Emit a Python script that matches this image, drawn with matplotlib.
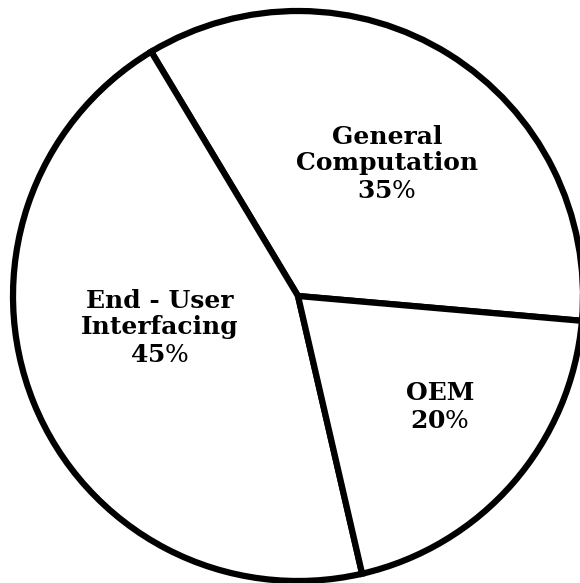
import matplotlib
matplotlib.use("Agg")
import matplotlib.pyplot as plt

plt.rcParams["mathtext.fontset"] = "dejavuserif"

labels = ["General\nComputation", "End - User\nInterfacing", "OEM"]
shares = [35, 45, 20]

R = 285.0  # pixels per data unit
CX, CY = 298, 296  # circle centre in pixels (from top-left)

# baseline of the percentage line for each label, in pixels
label_px = [(387, 198), (160, 362), (440, 428)]

fig = plt.figure(figsize=(5.8, 5.83), dpi=100)
ax = fig.add_axes([0, 0, 1, 1])

ax.pie(shares, startangle=-5, counterclock=True, colors=["white"] * 3,
       wedgeprops=dict(edgecolor="black", linewidth=4.5, joinstyle="miter"))

for lab, val, (px, py) in zip(labels, shares, label_px):
    x, y = (px - CX) / R, (CY - py) / R
    # bold number, lighter percent sign
    ax.text(x, y, rf"$\mathbf{{{val}}}$%", ha="center", va="baseline",
            family="DejaVu Serif", fontsize=18)
    ax.annotate(lab, (x, y), xytext=(0, 28), textcoords="offset pixels",
                ha="center", va="baseline", family="DejaVu Serif",
                fontweight="bold", fontsize=18, linespacing=1.1)

ax.set_xlim(-CX / R, (580 - CX) / R)
ax.set_ylim(-(583 - CY) / R, CY / R)
ax.set_aspect("auto")
ax.axis("off")

fig.savefig("out.png", dpi=100, facecolor="white")
